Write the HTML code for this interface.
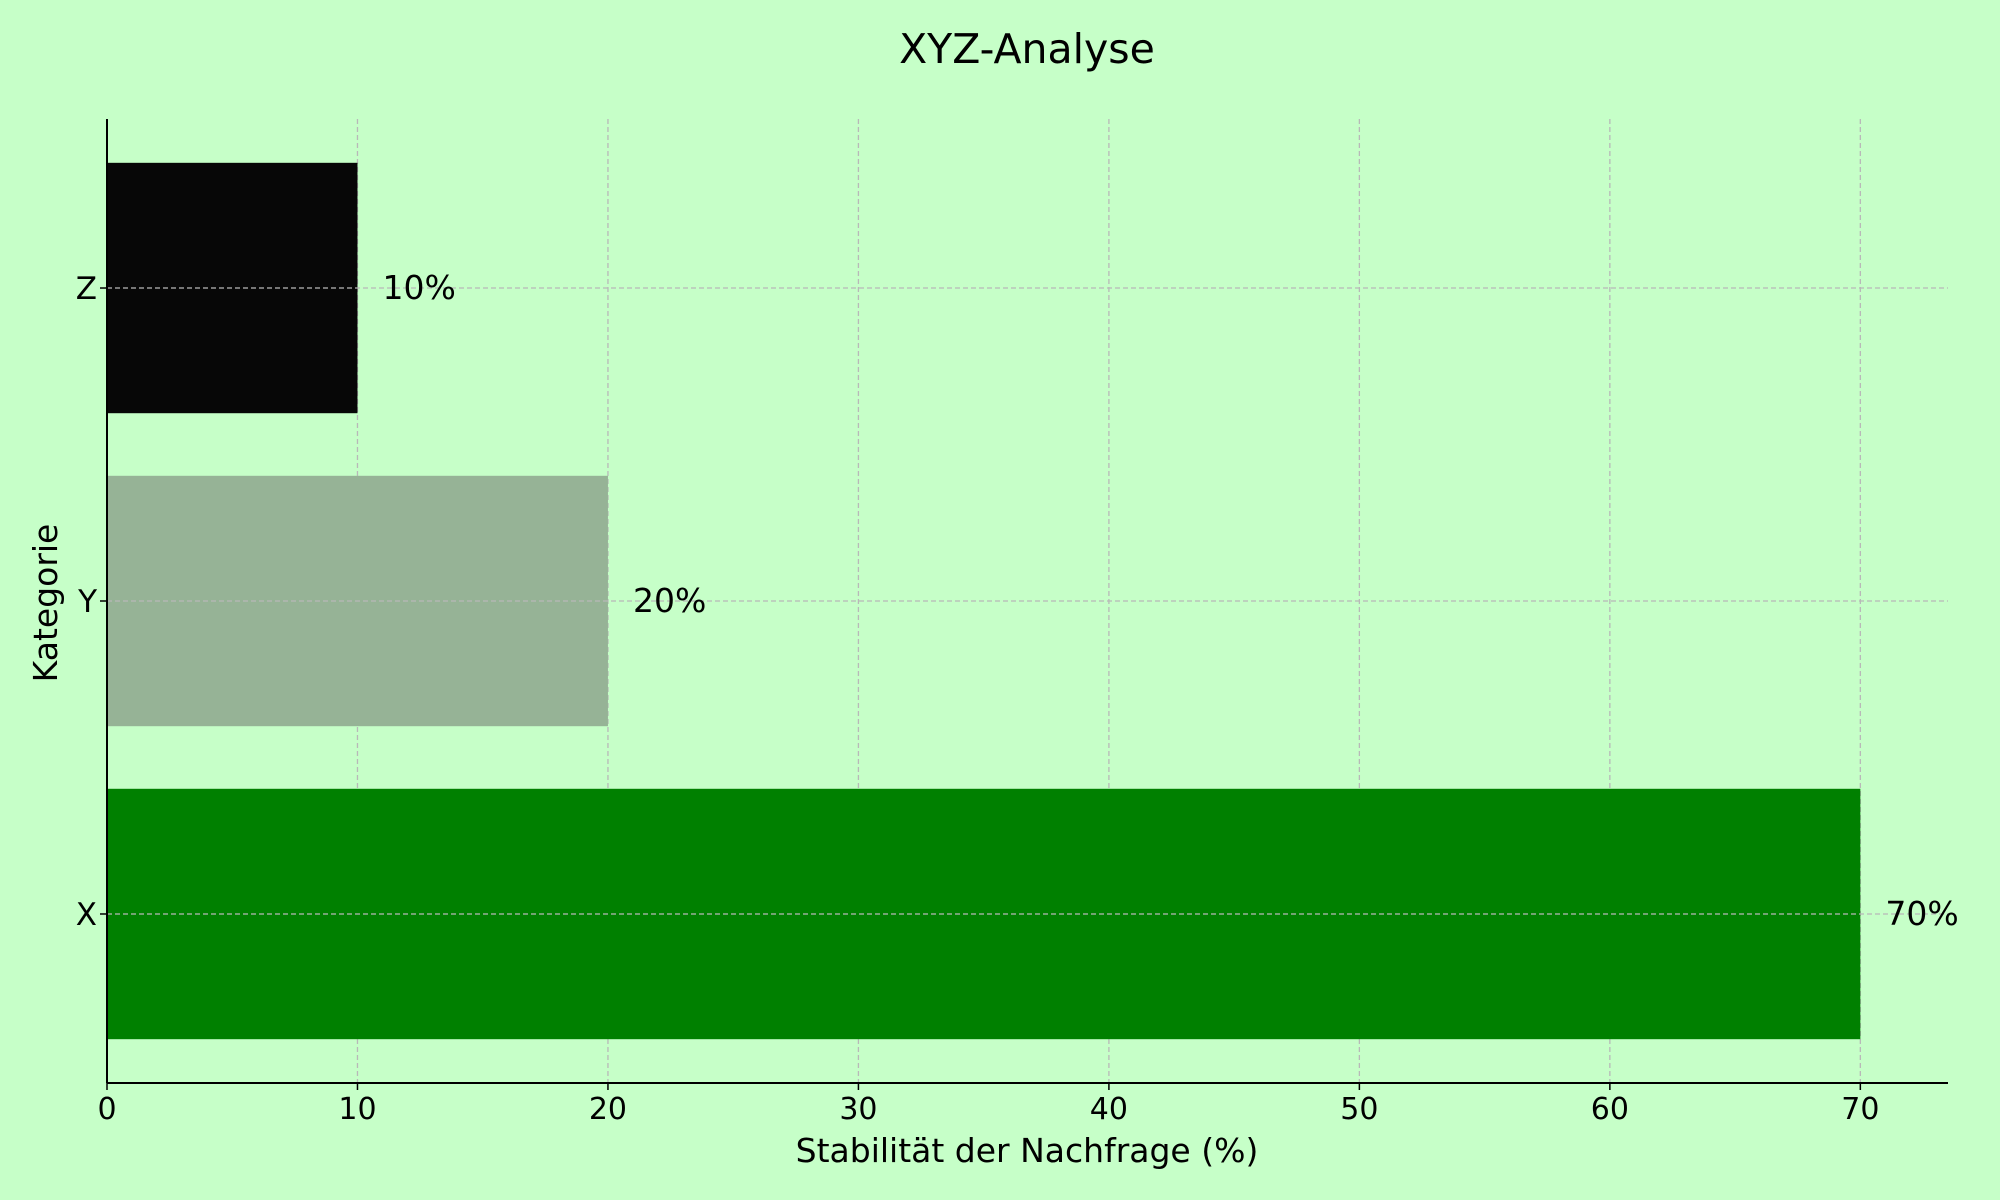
<!DOCTYPE html>
<html><head><meta charset="utf-8"><style>
html,body{margin:0;padding:0;background:#c6ffc8;}
svg{display:block;font-family:"DejaVu Sans","Liberation Sans",sans-serif;}
</style></head><body>
<svg id="chart" width="2000" height="1200" viewBox="0 0 2000 1200" xmlns="http://www.w3.org/2000/svg">
<rect width="2000" height="1200" fill="#c6ffc8"/>
<text x="1027" y="63" font-size="41" text-anchor="middle" fill="#000">XYZ-Analyse</text>
<text x="1027" y="1162" font-size="33" text-anchor="middle" fill="#000">Stabilität der Nachfrage (%)</text>
<text x="57" y="603" font-size="33" text-anchor="middle" fill="#000" transform="rotate(-90 57 603)">Kategorie</text>
<g id="grid"></g><g id="bars"></g><g id="axes"></g>
</svg>
<script>
const categories = ["X", "Y", "Z"];
const values = [70, 20, 10];
const valueLabels = ["70%", "20%", "10%"];
const xTicks = [0, 10, 20, 30, 40, 50, 60, 70];
const colors = ["#008000", "#96b396", "#070707"];

const L = 107, R = 1948, T = 119, B = 1083;
const xMin = 0, xMax = 73.5, yMin = -0.54, yMax = 2.54;
const xs = v => L + (v - xMin) / (xMax - xMin) * (R - L);
const ys = v => B - (v - yMin) / (yMax - yMin) * (B - T);
const NS = "http://www.w3.org/2000/svg";
function mk(tag, attrs, parent) {
  const e = document.createElementNS(NS, tag);
  for (const k in attrs) e.setAttribute(k, attrs[k]);
  parent.appendChild(e);
  return e;
}
const grid = document.getElementById('grid'), bars = document.getElementById('bars'), axes = document.getElementById('axes');
xTicks.forEach(t => {
  const g = mk('line', {x1: xs(t), x2: xs(t), y1: T, y2: B, stroke: '#b8b8b8', 'stroke-width': 1.3, 'stroke-dasharray': '5 3'}, grid);
  
  
  const tk = mk('line', {x1: xs(t), x2: xs(t), y1: B, y2: B + 7, stroke: '#000', 'stroke-width': 1.5}, axes);
  
  
  const tx = mk('text', {x: xs(t), y: B + 36, 'font-size': 30, 'text-anchor': 'middle', fill: '#000'}, axes);
  tx.textContent = t;
  
  
});
const bh = 0.8;
categories.forEach((c, i) => {
  const r = mk('rect', {x: xs(0), y: ys(i + bh / 2), width: xs(values[i]) - xs(0), height: ys(i - bh / 2) - ys(i + bh / 2), fill: colors[i]}, bars);
  
  
  const g = mk('line', {x1: L, x2: R, y1: ys(i), y2: ys(i), stroke: '#b8b8b8', 'stroke-width': 1.3, 'stroke-dasharray': '5 3'}, bars);
  
  
  const vl = mk('text', {x: xs(values[i] + 1), y: ys(i) + 11, 'font-size': 33, fill: '#000'}, bars);
  vl.textContent = valueLabels[i];
  
  
  const tk = mk('line', {x1: L - 7, x2: L, y1: ys(i), y2: ys(i), stroke: '#000', 'stroke-width': 1.5}, axes);
  
  
  const tx = mk('text', {x: L - 10, y: ys(i) + 11, 'font-size': 31, 'text-anchor': 'end', fill: '#000'}, axes);
  tx.textContent = c;
  
  
});
const la = mk('line', {x1: L, x2: L, y1: T, y2: B, stroke: '#000', 'stroke-width': 2}, axes);


const ba = mk('line', {x1: L, x2: R, y1: B, y2: B, stroke: '#000', 'stroke-width': 2}, axes);


</script>
</body></html>
